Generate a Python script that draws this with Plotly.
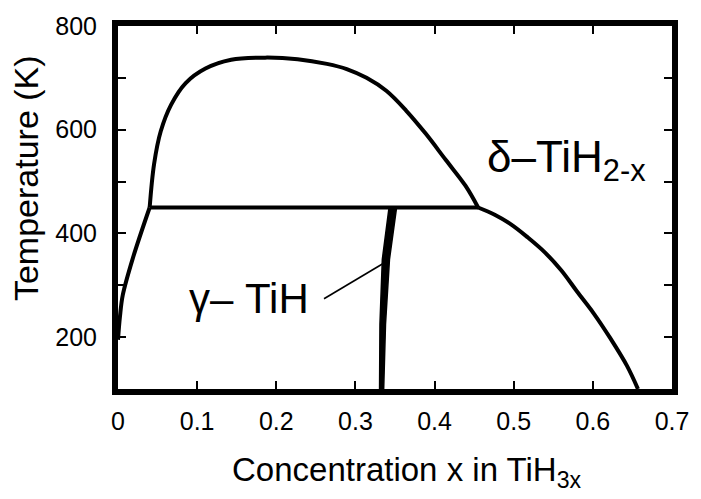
import plotly.graph_objects as go

# Phase boundaries of the Ti-H system (x in TiH_3x, temperature in K)
lower_left_x = [0.0, 0.0025, 0.006, 0.0185, 0.040]
lower_left_t = [195, 240, 281, 351, 450]

dome_x = [0.040, 0.0456, 0.054, 0.067, 0.0855, 0.1105, 0.143, 0.186, 0.227,
          0.264, 0.289, 0.314, 0.339, 0.364, 0.389, 0.414, 0.439, 0.455]
dome_t = [450, 534, 597, 648, 690, 718, 735, 739, 736,
          727, 717, 700, 675, 637, 592, 542, 492, 450]

eutectoid_x = [0.040, 0.455]
eutectoid_t = [450, 450]

delta_x = [0.455, 0.476, 0.497, 0.518, 0.539, 0.560, 0.580, 0.601, 0.622, 0.643, 0.657]
delta_t = [450, 436, 417, 392, 364, 329, 288, 246, 198, 145, 100]

# gamma-TiH line phase: narrow band, left and right edges
gamma_t = [100, 225, 350, 450]
gamma_left_x = [0.3305, 0.331, 0.334, 0.3425]
gamma_right_x = [0.3357, 0.3380, 0.3430, 0.3520]

# leader from the gamma label to the band
leader_x = [0.2603, 0.334]
leader_t = [274, 341]

x_ticks = [0, 0.1, 0.2, 0.3, 0.4, 0.5, 0.6, 0.7]
x_tick_text = ["0", "0.1", "0.2", "0.3", "0.4", "0.5", "0.6", "0.7"]
y_ticks = [200, 300, 400, 500, 600, 700, 800]
y_tick_text = ["200", "", "400", "", "600", "", "800"]

FONT = "Liberation Sans, Arial, Helvetica, sans-serif"
LW = 4

fig = go.Figure()

line_style = dict(color="black", width=LW)
for xs, ts in [(lower_left_x, lower_left_t), (dome_x, dome_t),
               (eutectoid_x, eutectoid_t), (delta_x, delta_t)]:
    fig.add_trace(go.Scatter(x=xs, y=ts, mode="lines", line=line_style,
                             line_shape="spline", hoverinfo="skip"))

band_x = gamma_left_x + gamma_right_x[::-1] + [gamma_left_x[0]]
band_t = gamma_t + gamma_t[::-1] + [gamma_t[0]]
fig.add_trace(go.Scatter(x=band_x, y=band_t, mode="lines", fill="toself",
                         fillcolor="black", line=dict(color="black", width=1.5),
                         hoverinfo="skip"))

fig.add_trace(go.Scatter(x=leader_x, y=leader_t, mode="lines",
                         line=dict(color="black", width=1.6), hoverinfo="skip"))

fig.add_annotation(x=0.165, y=274, xref="x", yref="y", text="γ– TiH",
                   showarrow=False, font=dict(family=FONT, size=42, color="black"),
                   xanchor="center", yanchor="middle")
fig.add_annotation(x=0.567, y=542, xref="x", yref="y", text="δ–TiH<sub>2-x</sub>",
                   showarrow=False, font=dict(family=FONT, size=44, color="black"),
                   xanchor="center", yanchor="middle")

fig.add_annotation(x=0.522, y=-0.228, xref="paper", yref="paper",
                   text="Concentration x in TiH<sub>3x</sub>", showarrow=False,
                   font=dict(family=FONT, size=33, color="black"),
                   xanchor="center", yanchor="middle")
fig.add_annotation(x=-0.165, y=0.58, xref="paper", yref="paper",
                   text="Temperature (K)", textangle=-90, showarrow=False,
                   font=dict(family=FONT, size=34, color="black"),
                   xanchor="center", yanchor="middle")

axis_common = dict(showline=True, linecolor="black", linewidth=6, mirror="ticks",
                   ticks="inside", ticklen=8, tickwidth=2, tickcolor="black",
                   showgrid=False, zeroline=False,
                   tickfont=dict(family=FONT, size=25, color="black"))

fig.update_xaxes(range=[0, 0.7], tickvals=x_ticks, ticktext=x_tick_text,
                 ticklabelstandoff=5, **axis_common)
fig.update_yaxes(range=[100, 800], tickvals=y_ticks, ticktext=y_tick_text,
                 ticklabelstandoff=10, **axis_common)

fig.update_layout(width=701, height=499, showlegend=False,
                  margin=dict(l=118, r=22, t=20, b=110),
                  plot_bgcolor="white", paper_bgcolor="white",
                  font=dict(family=FONT, color="black"))

fig.write_html("out.html")
